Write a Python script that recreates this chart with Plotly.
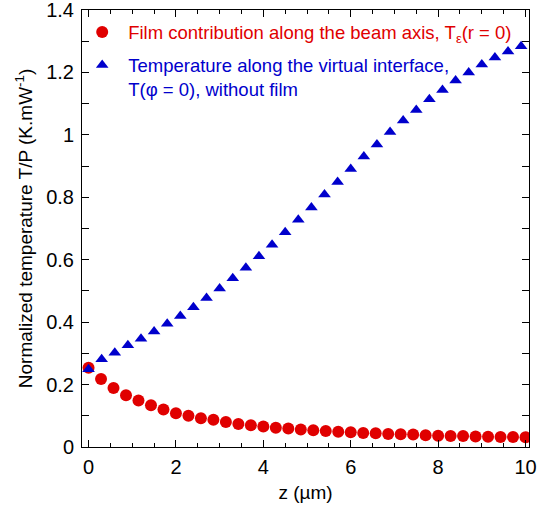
import plotly.graph_objects as go

# Film contribution along the beam axis (red circles): 36 points from 0 to 10 um
z_film = [i * 10 / 35 for i in range(36)]
t_film = [0.254, 0.218, 0.189, 0.166, 0.149, 0.134, 0.120, 0.108, 0.100, 0.092,
          0.087, 0.080, 0.074, 0.070, 0.066, 0.062, 0.059, 0.056, 0.054, 0.051,
          0.049, 0.047, 0.045, 0.044, 0.042, 0.041, 0.040, 0.038, 0.036, 0.035,
          0.035, 0.034, 0.033, 0.032, 0.032, 0.031]

# Temperature along the virtual interface (blue triangles): 34 points, step 0.3 um
z_int = [round(i * 0.3, 2) for i in range(34)]
t_int = [0.249, 0.281, 0.302, 0.326, 0.347, 0.370, 0.395, 0.420, 0.448, 0.477,
         0.508, 0.541, 0.574, 0.611, 0.648, 0.688, 0.728, 0.767, 0.809, 0.849,
         0.891, 0.931, 0.969, 1.009, 1.046, 1.080, 1.114, 1.144, 1.174, 1.200,
         1.225, 1.248, 1.267, 1.284]

RED = "#e00000"
BLUE = "#0000cc"
FONT = "Liberation Sans, Arial, sans-serif"

fig = go.Figure()
fig.add_trace(go.Scatter(
    x=z_film, y=t_film, mode="markers", legendgroup="film",
    marker=dict(symbol="circle", size=12, color=RED, line=dict(width=0)),
    name=f"<span style='color:{RED}'>Film contribution along the beam axis, T<sub>ε</sub>(r = 0)</span>",
))
fig.add_trace(go.Scatter(
    x=z_int, y=t_int, mode="markers", legendgroup="interface",
    marker=dict(symbol="triangle-up", size=11, color=BLUE, line=dict(width=0)),
    name=f"<span style='color:{BLUE}'>Temperature along the virtual interface,<br>T(φ = 0), without film</span>",
))

axis_common = dict(
    showline=True, linecolor="black", linewidth=1, mirror="ticks",
    ticks="inside", tickcolor="black", tickwidth=1,
    showgrid=False, zeroline=False, automargin=False,
    ticklabeloverflow="allow",
    tickfont=dict(family=FONT, size=20, color="black"),
)

fig.update_xaxes(
    range=[-0.15, 10.08], dtick=2, tick0=0, ticklen=7,
    minor=dict(dtick=0.5, ticks="inside", ticklen=4, tickcolor="black", showgrid=False),
    title=dict(text="z (µm)", font=dict(family=FONT, size=19, color="black"), standoff=8),
    ticklabelstandoff=2,
    **axis_common,
)
fig.update_yaxes(
    range=[0, 1.4], dtick=0.2, tick0=0, ticklen=7,
    minor=dict(dtick=0.1, ticks="inside", ticklen=7, tickcolor="black", showgrid=False),
    title=dict(text="Normalized temperature T/P (K.mW<sup>-1</sup>)",
               font=dict(family=FONT, size=19, color="black"), standoff=8),
    ticklabelstandoff=3,
    **axis_common,
)

fig.update_layout(
    width=537, height=506,
    margin=dict(l=82, r=8, t=10, b=59),
    paper_bgcolor="white", plot_bgcolor="white",
    font=dict(family=FONT, size=19, color="black"),
    showlegend=True,
    legend=dict(
        x=-0.013, y=0.992, xanchor="left", yanchor="top",
        bgcolor="rgba(0,0,0,0)", borderwidth=0,
        font=dict(family=FONT, size=18.5),
        valign="top", itemwidth=42, tracegroupgap=6,
    ),
)

fig.write_html("out.html", config={"displayModeBar": False},
               post_script="document.body.style.margin='0';")
